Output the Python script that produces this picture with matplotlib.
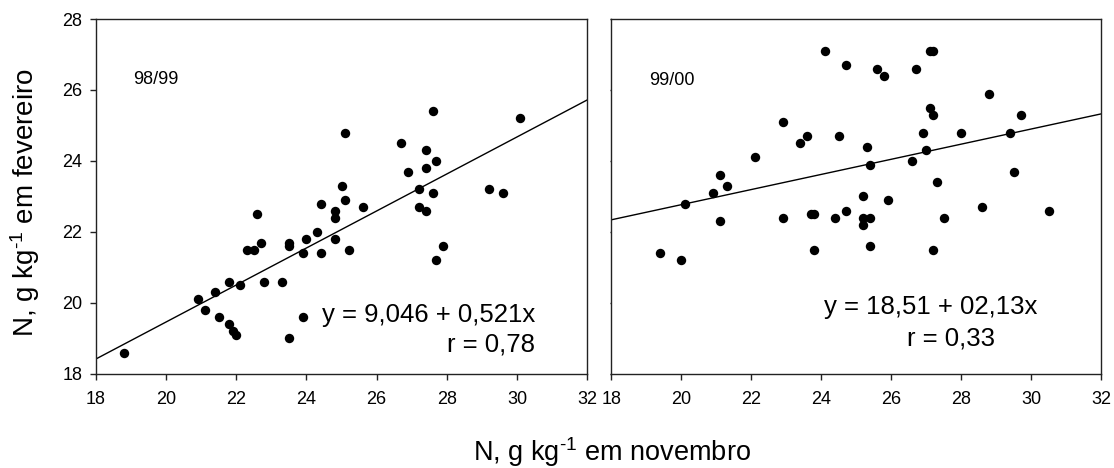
import matplotlib
matplotlib.use("Agg")
import matplotlib.pyplot as plt
import numpy as np

plt.rcParams['font.family'] = ['Liberation Sans', 'DejaVu Sans']
plt.rcParams['mathtext.default'] = 'regular'
plt.rcParams['mathtext.fontset'] = 'custom'
plt.rcParams['mathtext.rm'] = 'Liberation Sans'
plt.rcParams['mathtext.it'] = 'Liberation Sans'

# 98/99 season
x_9899 = [18.8, 20.9, 21.1, 21.4, 21.5, 21.8, 21.8, 21.9, 22.0, 22.1, 22.3, 22.5,
          22.6, 22.7, 22.8, 23.3, 23.5, 23.5, 23.5, 23.9, 23.9, 24.0, 24.3, 24.4,
          24.4, 24.8, 24.8, 24.8, 25.0, 25.1, 25.1, 25.2, 25.6, 26.7, 26.9, 27.2,
          27.2, 27.4, 27.4, 27.4, 27.6, 27.6, 27.7, 27.7, 27.9, 29.2, 29.6, 30.1]
y_9899 = [18.6, 20.1, 19.8, 20.3, 19.6, 20.6, 19.4, 19.2, 19.1, 20.5, 21.5, 21.5,
          22.5, 21.7, 20.6, 20.6, 21.7, 21.6, 19.0, 21.4, 19.6, 21.8, 22.0, 22.8,
          21.4, 22.6, 22.4, 21.8, 23.3, 24.8, 22.9, 21.5, 22.7, 24.5, 23.7, 23.2,
          22.7, 24.3, 23.8, 22.6, 25.4, 23.1, 24.0, 21.2, 21.6, 23.2, 23.1, 25.2]

# 99/00 season
x_9900 = [19.4, 20.0, 20.1, 20.9, 21.1, 21.3, 21.1, 22.1, 22.9, 22.9, 23.4, 23.6,
          23.7, 23.8, 23.8, 24.1, 24.4, 24.5, 24.7, 24.7, 25.2, 25.2, 25.2, 25.3,
          25.4, 25.4, 25.4, 25.6, 25.8, 25.9, 26.6, 26.7, 26.9, 27.0, 27.1, 27.1,
          27.2, 27.2, 27.3, 27.2, 27.5, 28.0, 28.6, 28.8, 29.4, 29.5, 29.7, 30.5]
y_9900 = [21.4, 21.2, 22.8, 23.1, 23.6, 23.3, 22.3, 24.1, 25.1, 22.4, 24.5, 24.7,
          22.5, 22.5, 21.5, 27.1, 22.4, 24.7, 26.7, 22.6, 23.0, 22.4, 22.2, 24.4,
          23.9, 22.4, 21.6, 26.6, 26.4, 22.9, 24.0, 26.6, 24.8, 24.3, 25.5, 27.1,
          27.1, 25.3, 23.4, 21.5, 22.4, 24.8, 22.7, 25.9, 24.8, 23.7, 25.3, 22.6]

# regression lines (intercept, slope)
fit_9899 = (9.046, 0.521)
fit_9900 = (18.51, 0.213)

xticks = [18, 20, 22, 24, 26, 28, 30, 32]
yticks = [18, 20, 22, 24, 26, 28]

fig = plt.figure(figsize=(11.14, 4.68), dpi=100)
ax1 = fig.add_axes([0.0862, 0.2009, 0.4408, 0.7585])
ax2 = fig.add_axes([0.5489, 0.2009, 0.4394, 0.7585])

def style(ax, ylabels=True):
    ax.set_xlim(18, 32)
    ax.set_ylim(18, 28)
    ax.set_xticks(xticks)
    ax.set_yticks(yticks)
    for s in ax.spines.values():
        s.set_linewidth(1.0)
        s.set_color('#222222')
    ax.tick_params(axis='x', direction='out', length=4, width=1.0,
                   labelsize=13, pad=8.5, color='#222222')
    if ylabels:
        ax.tick_params(axis='y', direction='out', length=4, width=1.0,
                       labelsize=13, pad=6, color='#222222')
    else:
        ax.tick_params(axis='y', direction='out', length=1, width=1.0,
                       labelleft=False, color='#222222')

style(ax1, True)
style(ax2, False)

lx = np.array([18, 32])
ax1.plot(lx, fit_9899[0] + fit_9899[1] * lx, color='black', lw=1.0)
ax2.plot(lx, fit_9900[0] + fit_9900[1] * lx, color='black', lw=1.0)

ax1.scatter(x_9899, y_9899, s=46, color='black', zorder=3, linewidths=0)
ax2.scatter(x_9900, y_9900, s=46, color='black', zorder=3, linewidths=0)

ax1.text(19.06, 26.3, '98/99', fontsize=13, va='center', ha='left')
ax2.text(19.09, 26.26, '99/00', fontsize=13, va='center', ha='left')

ax1.text(30.52, 19.67, 'y = 9,046 + 0,521x', fontsize=18.5, va='center', ha='right')
ax1.text(30.52, 18.82, 'r = 0,78', fontsize=18.5, va='center', ha='right')
ax2.text(27.13, 19.9, 'y = 18,51 + 02,13x', fontsize=18.5, va='center', ha='center')
ax2.text(27.7, 19.0, 'r = 0,33', fontsize=18.5, va='center', ha='center')

fig.text(0.0224, 0.567, r'N, g kg$^{\text{-1}}$ em fevereiro', fontsize=20,
         rotation=90, va='center', ha='center')
fig.text(0.549, 0.016, r'N, g kg$^{\text{-1}}$ em novembro', fontsize=19.5,
         va='baseline', ha='center')

fig.savefig('out.png', dpi=100)
